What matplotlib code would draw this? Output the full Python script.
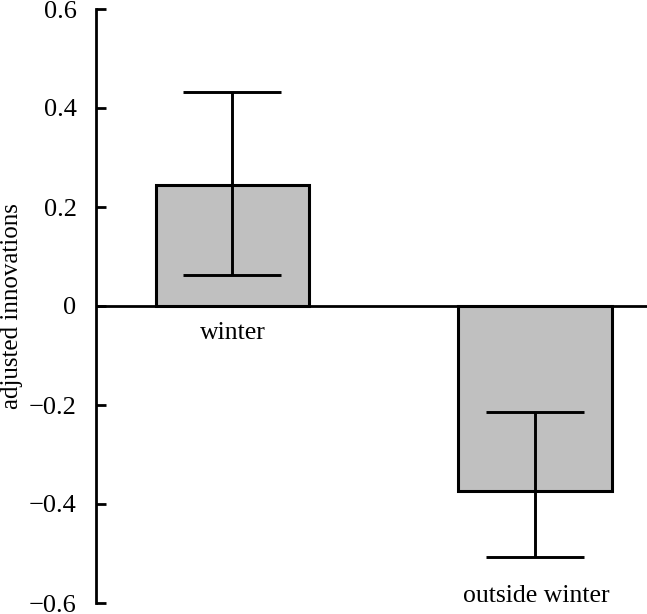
import matplotlib
matplotlib.use("Agg")
import matplotlib.pyplot as plt

# values
categories = ["winter", "outside winter"]
means = [0.245, -0.373]
err_low = [0.063, -0.508]
err_high = [0.432, -0.215]
yticks = [-0.6, -0.4, -0.2, 0, 0.2, 0.4, 0.6]
ytick_labels = ["\u22120.6", "\u22120.4", "\u22120.2", "0", "0.2", "0.4", "0.6"]

plt.rcParams["font.family"] = ["Liberation Serif", "DejaVu Serif"]

fig = plt.figure(figsize=(6.47, 6.14), dpi=100)
ax = fig.add_axes([96 / 647, 11 / 614, 1 - 96 / 647, 594 / 614])

x = [0, 1]
yerr = [[m - lo for m, lo in zip(means, err_low)],
        [hi - m for m, hi in zip(means, err_high)]]
ax.bar(x, means, width=0.506, color="#c0c0c0", edgecolor="black", linewidth=2.2, zorder=2)
ax.errorbar(x, means, yerr=yerr, fmt="none", ecolor="black", elinewidth=2.1,
            capsize=35, capthick=2.1, zorder=3)
ax.axhline(0, color="black", lw=2, zorder=4)

# category labels sit under each bar
ax.text(0, -0.055, categories[0], ha="center", va="center", fontsize=18.5)
ax.text(1.005, -0.586, categories[1], ha="center", va="center", fontsize=18.5)

ax.set_xlim(-0.451, 1.37)
ax.set_ylim(-0.6, 0.6)
ax.set_yticks(yticks)
ax.set_yticklabels(ytick_labels, fontsize=19)
ax.set_xticks([])
for s in ["top", "right", "bottom"]:
    ax.spines[s].set_visible(False)
ax.spines["left"].set_linewidth(2)
ax.tick_params(axis="y", direction="in", length=7, width=2, pad=14)
ax.set_ylabel("adjusted innovations", fontsize=18, labelpad=4)

fig.savefig("out.png", dpi=100)
